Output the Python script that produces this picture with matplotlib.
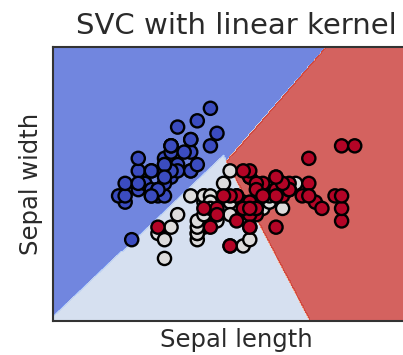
import numpy as np
import matplotlib
matplotlib.use('Agg')
import matplotlib.pyplot as plt

# iris: sepal length / sepal width, 50 per class
setosa_len = [5.1, 4.9, 4.7, 4.6, 5.0, 5.4, 4.6, 5.0, 4.4, 4.9,
              5.4, 4.8, 4.8, 4.3, 5.8, 5.7, 5.4, 5.1, 5.7, 5.1,
              5.4, 5.1, 4.6, 5.1, 4.8, 5.0, 5.0, 5.2, 5.2, 4.7,
              4.8, 5.4, 5.2, 5.5, 4.9, 5.0, 5.5, 4.9, 4.4, 5.1,
              5.0, 4.5, 4.4, 5.0, 5.1, 4.8, 5.1, 4.6, 5.3, 5.0]
setosa_wid = [3.5, 3.0, 3.2, 3.1, 3.6, 3.9, 3.4, 3.4, 2.9, 3.1,
              3.7, 3.4, 3.0, 3.0, 4.0, 4.4, 3.9, 3.5, 3.8, 3.8,
              3.4, 3.7, 3.6, 3.3, 3.4, 3.0, 3.4, 3.5, 3.4, 3.2,
              3.1, 3.4, 4.1, 4.2, 3.1, 3.2, 3.5, 3.1, 3.0, 3.4,
              3.5, 2.3, 3.2, 3.5, 3.8, 3.0, 3.8, 3.2, 3.7, 3.3]
versicolor_len = [7.0, 6.4, 6.9, 5.5, 6.5, 5.7, 6.3, 4.9, 6.6, 5.2,
                  5.0, 5.9, 6.0, 6.1, 5.6, 6.7, 5.6, 5.8, 6.2, 5.6,
                  5.9, 6.1, 6.3, 6.1, 6.4, 6.6, 6.8, 6.7, 6.0, 5.7,
                  5.5, 5.5, 5.8, 6.0, 5.4, 6.0, 6.7, 6.3, 5.6, 5.5,
                  5.5, 6.1, 5.8, 5.0, 5.6, 5.7, 5.7, 6.2, 5.1, 5.7]
versicolor_wid = [3.2, 3.2, 3.1, 2.3, 2.8, 2.8, 3.3, 2.4, 2.9, 2.7,
                  2.0, 3.0, 2.2, 2.9, 2.9, 3.1, 3.0, 2.7, 2.2, 2.5,
                  3.2, 2.8, 2.5, 2.8, 2.9, 3.0, 2.8, 3.0, 2.9, 2.6,
                  2.4, 2.4, 2.7, 2.7, 3.0, 3.4, 3.1, 2.3, 3.0, 2.5,
                  2.6, 3.0, 2.6, 2.3, 2.7, 3.0, 2.9, 2.9, 2.5, 2.8]
virginica_len = [6.3, 5.8, 7.1, 6.3, 6.5, 7.6, 4.9, 7.3, 6.7, 7.2,
                 6.5, 6.4, 6.8, 5.7, 5.8, 6.4, 6.5, 7.7, 7.7, 6.0,
                 6.9, 5.6, 7.7, 6.3, 6.7, 7.2, 6.2, 6.1, 6.4, 7.2,
                 7.4, 7.9, 6.4, 6.3, 6.1, 7.7, 6.3, 6.4, 6.0, 6.9,
                 6.7, 6.9, 5.8, 6.8, 6.7, 6.7, 6.3, 6.5, 6.2, 5.9]
virginica_wid = [3.3, 2.7, 3.0, 2.9, 3.0, 3.0, 2.5, 2.9, 2.5, 3.6,
                 3.2, 2.7, 3.0, 2.5, 2.8, 3.2, 3.0, 3.8, 2.6, 2.2,
                 3.2, 2.8, 2.8, 2.7, 3.3, 3.2, 2.8, 3.0, 2.8, 3.0,
                 2.8, 3.8, 2.8, 2.8, 2.6, 3.0, 3.4, 3.1, 3.0, 3.1,
                 3.1, 3.1, 2.7, 3.2, 3.3, 3.0, 2.5, 3.0, 3.4, 3.0]

X = np.column_stack([setosa_len + versicolor_len + virginica_len,
                     setosa_wid + versicolor_wid + virginica_wid])
y = np.repeat([0, 1, 2], 50)


def train_pair(Xp, yp, C=1.0, tol=1e-3, max_iter=200000):
    # linear SVM dual, SMO with maximal violating pair (like libsvm)
    a = np.zeros(len(yp))
    K = Xp @ Xp.T
    w = np.zeros(Xp.shape[1])
    for _ in range(max_iter):
        g = yp - Xp @ w
        up = ((a < C) & (yp > 0)) | ((a > 0) & (yp < 0))
        low = ((a < C) & (yp < 0)) | ((a > 0) & (yp > 0))
        gu = np.where(up, g, -np.inf)
        gl = np.where(low, g, np.inf)
        i = np.argmax(gu)
        j = np.argmin(gl)
        if gu[i] - gl[j] < tol:
            break
        eta = max(K[i, i] + K[j, j] - 2 * K[i, j], 1e-12)
        t = (gu[i] - gl[j]) / eta
        bi = C - a[i] if yp[i] > 0 else a[i]
        bj = a[j] if yp[j] > 0 else C - a[j]
        t = min(t, bi, bj)
        a[i] += yp[i] * t
        a[j] -= yp[j] * t
        w += t * (Xp[i] - Xp[j])
    g = yp - Xp @ w
    free = (a > 1e-8) & (a < C - 1e-8)
    if free.any():
        b = g[free].mean()
    else:
        b = 0.5 * (gu[i] + gl[j])
    return w, b


pairs = [(0, 1), (0, 2), (1, 2)]
models = []
for ci, cj in pairs:
    m = (y == ci) | (y == cj)
    yp = np.where(y[m] == ci, 1.0, -1.0)
    models.append(train_pair(X[m], yp))

h = .02
x_min, x_max = X[:, 0].min() - 1, X[:, 0].max() + 1
y_min, y_max = X[:, 1].min() - 1, X[:, 1].max() + 1
xx, yy = np.meshgrid(np.arange(x_min, x_max, h), np.arange(y_min, y_max, h))
grid = np.c_[xx.ravel(), yy.ravel()]

votes = np.zeros((grid.shape[0], 3))
for (ci, cj), (w, b) in zip(pairs, models):
    d = grid @ w + b
    votes[d > 0, ci] += 1
    votes[d <= 0, cj] += 1
Z = np.argmax(votes, axis=1).reshape(xx.shape)

fig = plt.figure(figsize=(4.03, 3.55), dpi=100)
ax = fig.add_axes([53 / 403, 34 / 355, 366 / 403, 274 / 355])
ax.contourf(xx, yy, Z, cmap=plt.cm.coolwarm, alpha=0.8)
ax.scatter(X[:, 0], X[:, 1], c=y, cmap=plt.cm.coolwarm, s=90,
           edgecolors='k', linewidths=1.7)
ax.set_xlim(xx.min(), xx.max())
ax.set_ylim(yy.min(), yy.max())
ax.set_xticks(())
ax.set_yticks(())
for sp in ax.spines.values():
    sp.set_linewidth(1.5)
    sp.set_color('#333333')
ax.set_xlabel('Sepal length', fontsize=17.5, color='#2a2a2a', labelpad=5)
ax.set_ylabel('Sepal width', fontsize=17.5, color='#2a2a2a', labelpad=7)
ax.set_title('SVC with linear kernel', fontsize=21, color='#2a2a2a', pad=9)

fig.savefig('out.png', dpi=100)
